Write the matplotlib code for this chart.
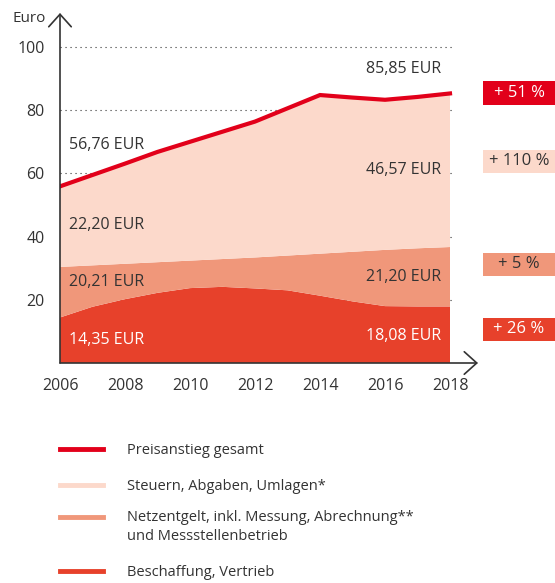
import numpy as np
import matplotlib
matplotlib.use('Agg')
import matplotlib.pyplot as plt
from matplotlib.lines import Line2D
from matplotlib.patches import Rectangle

plt.rcParams['font.family'] = ['Open Sans', 'DejaVu Sans']

years = [2006, 2007, 2008, 2009, 2010, 2011, 2012, 2013, 2014, 2015, 2016, 2017, 2018]
# layer thicknesses as drawn in the picture (Euro)
beschaffung = [14.4, 17.8, 20.2, 22.2, 23.7, 24.1, 23.6, 23.0, 21.3, 19.5, 18.0, 17.9, 17.9]
netzentgelt = [16.0, 13.1, 11.2, 9.7, 8.7, 8.8, 9.8, 11.0, 13.3, 15.7, 17.8, 18.4, 18.8]
steuern = [25.5, 28.6, 31.7, 34.9, 37.6, 40.3, 43.0, 46.6, 50.2, 48.8, 47.5, 47.9, 48.6]

labels_2006 = ['56,76 EUR', '22,20 EUR', '20,21 EUR', '14,35 EUR']
labels_2018 = ['85,85 EUR', '46,57 EUR', '21,20 EUR', '18,08 EUR']
changes = ['+ 51 %', '+ 110 %', '+ 5 %', '+ 26 %']
legend_labels = ['Preisanstieg gesamt', 'Steuern, Abgaben, Umlagen*',
                 'Netzentgelt, inkl. Messung, Abrechnung**\nund Messstellenbetrieb',
                 'Beschaffung, Vertrieb']

c_line = '#E2001A'
c_steuern = '#FCD9CB'
c_netz = '#F0977A'
c_besch = '#E7412B'
c_text = '#333333'

W, H = 555, 583
fig = plt.figure(figsize=(W / 100, H / 100), dpi=100)
ax = fig.add_axes([60 / W, 220 / H, 418 / W, 350 / H])

ax.set_xlim(2006, 2006 + 418 / 32.5)
ax.set_ylim(0, 350 / 3.16)

# dotted gridlines behind the areas
for v in [20, 40, 60, 80, 100]:
    ax.plot([2006, 2018.08], [v, v], color=c_text, lw=0.8,
            linestyle=(0, (1, 3.5)), zorder=0)

ax.stackplot(years, beschaffung, netzentgelt, steuern,
             colors=[c_besch, c_netz, c_steuern], lw=0, zorder=1)
total = np.array(beschaffung) + np.array(netzentgelt) + np.array(steuern)
ax.plot(years, total, color=c_line, lw=3, solid_joinstyle='miter', zorder=3)

for s in ax.spines.values():
    s.set_visible(False)
for end in [(0, 1), (1, 0)]:
    ax.annotate('', xy=end, xytext=(0, 0), xycoords='axes fraction',
                arrowprops=dict(arrowstyle='->,head_length=0.5,head_width=0.45',
                                color=c_text, lw=1.2, mutation_scale=18,
                                shrinkA=0, shrinkB=0),
                annotation_clip=False, zorder=5)

ax.set_yticks([20, 40, 60, 80, 100])
ax.set_xticks(range(2006, 2019, 2))
ax.tick_params(length=0, labelsize=11.5, labelcolor=c_text)
ax.tick_params(axis='y', pad=11)
ax.tick_params(axis='x', pad=11)

fig.text(13 / W, 1 - 19 / H, 'Euro', fontsize=11, color=c_text, va='center', ha='left')

# value labels
y2006 = [145, 225, 282, 340]
y2018 = [69, 170, 277, 336]
for i in range(4):
    col = 'white' if i == 3 else c_text
    fig.text(69 / W, 1 - y2006[i] / H, labels_2006[i], fontsize=11.5, color=col,
             va='center', ha='left')
    fig.text(441 / W, 1 - y2018[i] / H, labels_2018[i], fontsize=11.5, color=col,
             va='center', ha='right')

# change badges
badge_y = [93, 161, 264, 329]
badge_c = [c_line, c_steuern, c_netz, c_besch]
badge_t = ['white', c_text, c_text, 'white']
for i in range(4):
    fig.patches.append(Rectangle((483 / W, 1 - (badge_y[i] + 11.5) / H), 72 / W, 23 / H,
                                 transform=fig.transFigure, facecolor=badge_c[i],
                                 edgecolor='none'))
    fig.text(519 / W, 1 - badge_y[i] / H, changes[i], fontsize=12, color=badge_t[i],
             va='center', ha='center')

# legend
leg_y = [449, 485, 517, 571]
leg_ty = [451, 486, 527, 572]
leg_c = [c_line, c_steuern, c_netz, c_besch]
for i in range(4):
    fig.lines.append(Line2D([60 / W, 103 / W], [1 - leg_y[i] / H] * 2,
                            transform=fig.transFigure, color=leg_c[i], lw=3.5))
    fig.text(127 / W, 1 - leg_ty[i] / H, legend_labels[i], fontsize=10.5, color=c_text,
             va='center', ha='left', linespacing=1.3)

fig.savefig('out.png', dpi=100)
